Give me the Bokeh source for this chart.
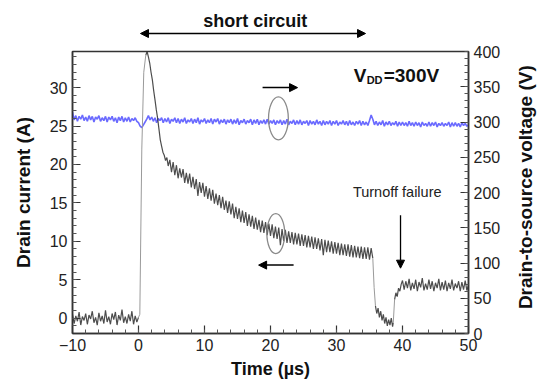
import math
from bokeh.plotting import figure
from bokeh.layouts import column, row
from bokeh.models import Range1d, LinearAxis, FixedTicker, Arrow, NormalHead, Label
from bokeh.embed import file_html
from bokeh.resources import INLINE

# ---------------- data ----------------
# sampling instants of the scope traces (µs)
t_grid = [
    -10.0, -9.75, -9.5, -9.25, -9.0, -8.75, -8.5, -8.25,
    -8.0, -7.75, -7.5, -7.25, -7.0, -6.75, -6.5, -6.25,
    -6.0, -5.75, -5.5, -5.25, -5.0, -4.75, -4.5, -4.25,
    -4.0, -3.75, -3.5, -3.25, -3.0, -2.75, -2.5, -2.25,
    -2.0, -1.75, -1.5, -1.25, -1.0, -0.75, -0.5, -0.25,
    0.0, 0.25, 0.5, 0.75, 1.0, 1.25, 1.5, 1.75,
    2.0, 2.25, 2.5, 2.75, 3.0, 3.25, 3.5, 3.75,
    4.0, 4.25, 4.5, 4.75, 5.0, 5.25, 5.5, 5.75,
    6.0, 6.25, 6.5, 6.75, 7.0, 7.25, 7.5, 7.75,
    8.0, 8.25, 8.5, 8.75, 9.0, 9.25, 9.5, 9.75,
    10.0, 10.25, 10.5, 10.75, 11.0, 11.25, 11.5, 11.75,
    12.0, 12.25, 12.5, 12.75, 13.0, 13.25, 13.5, 13.75,
    14.0, 14.25, 14.5, 14.75, 15.0, 15.25, 15.5, 15.75,
    16.0, 16.25, 16.5, 16.75, 17.0, 17.25, 17.5, 17.75,
    18.0, 18.25, 18.5, 18.75, 19.0, 19.25, 19.5, 19.75,
    20.0, 20.25, 20.5, 20.75, 21.0, 21.25, 21.5, 21.75,
    22.0, 22.25, 22.5, 22.75, 23.0, 23.25, 23.5, 23.75,
    24.0, 24.25, 24.5, 24.75, 25.0, 25.25, 25.5, 25.75,
    26.0, 26.25, 26.5, 26.75, 27.0, 27.25, 27.5, 27.75,
    28.0, 28.25, 28.5, 28.75, 29.0, 29.25, 29.5, 29.75,
    30.0, 30.25, 30.5, 30.75, 31.0, 31.25, 31.5, 31.75,
    32.0, 32.25, 32.5, 32.75, 33.0, 33.25, 33.5, 33.75,
    34.0, 34.25, 34.5, 34.75, 35.0, 35.25, 35.5, 35.75,
    36.0, 36.25, 36.5, 36.75, 37.0, 37.25, 37.5, 37.75,
    38.0, 38.25, 38.5, 38.75, 39.0, 39.25, 39.5, 39.75,
    40.0, 40.25, 40.5, 40.75, 41.0, 41.25, 41.5, 41.75,
    42.0, 42.25, 42.5, 42.75, 43.0, 43.25, 43.5, 43.75,
    44.0, 44.25, 44.5, 44.75, 45.0, 45.25, 45.5, 45.75,
    46.0, 46.25, 46.5, 46.75, 47.0, 47.25, 47.5, 47.75,
    48.0, 48.25, 48.5, 48.75, 49.0, 49.25, 49.5, 49.75,
    50.0]

# drain current (A), left axis -- before the short circuit (t = -10 .. 0)
t_pre = t_grid[0:41]
i_pre = [0.5, -0.7, 0.3, -0.4, 0.8, -0.9, 0.2, -0.3, 0.6, -0.8, 0.4, -0.1, 0.9, -0.6,
         0.1, -0.9, 0.7, -0.4, 0.3, -0.7, 1.0, -0.5, 0.2, -0.8, 0.6, -0.2, 0.8, -0.9,
         0.4, -0.3, 1.1, -0.6, 0.2, -0.7, 0.5, -0.4, 0.9, -0.8, 0.3, -0.5, 0.1]

# fast turn-on edge
t_rise = [0.0, 0.2, 0.5, 0.8, 1.1]
i_rise = [0.1, 0.5, 22.0, 32.0, 34.2]

# short-circuit current (t = 1.1 .. 35.5)
t_sc = [1.1, 1.3, 1.5, 1.7, 1.9, 2.1, 2.3, 2.5, 2.7, 2.9, 3.1, 3.3, 3.5, 3.7, 3.9,
        4.1, 4.3, 4.5] + t_grid[59:183]
i_sc = [34.2, 34.7, 34.0, 33.2, 32.0, 31.0, 29.6, 28.4, 27.1, 26.0, 24.6, 23.2, 22.4,
        21.6, 21.2, 20.5, 20.9, 19.8,
        20.6, 19.0, 20.3, 18.6, 19.9, 18.2, 19.5, 18.3,
        19.4, 17.6, 18.9, 17.5, 18.8, 17.0, 18.4, 16.8,
        18.1, 15.9, 17.7, 16.3, 17.6, 15.8, 17.2, 15.5,
        16.9, 15.3, 16.7, 14.9, 16.2, 14.7, 16.0, 14.3,
        15.8, 14.1, 15.3, 13.7, 15.2, 13.5, 14.9, 13.0,
        14.5, 12.9, 14.3, 12.5, 14.0, 12.4, 13.8, 12.0,
        13.5, 11.9, 13.3, 11.6, 13.1, 11.5, 12.8, 11.2,
        12.7, 11.1, 12.5, 10.8, 12.3, 10.7, 12.2, 10.4,
        11.9, 10.3, 11.8, 9.5, 11.6, 10.0, 11.5, 9.8,
        11.3, 9.8, 11.2, 9.6, 11.1, 9.6, 11.0, 9.4,
        10.9, 9.4, 10.8, 9.2, 10.7, 9.2, 10.6, 9.0,
        10.5, 9.0, 10.4, 8.8, 10.3, 8.2, 10.2, 8.6,
        10.1, 8.6, 10.0, 8.4, 9.9, 8.4, 9.8, 8.2,
        9.7, 8.2, 9.6, 8.1, 9.6, 8.0, 9.5, 7.9,
        9.4, 7.9, 9.3, 7.8, 9.3, 7.7, 9.2, 7.7,
        9.2, 7.6, 9.1, 7.8]

# turn-off attempt
t_fall = [35.5, 35.7, 35.9]
i_fall = [7.8, 4.0, 1.6]

t_dip = [35.9, 36.1, 36.3, 36.5, 36.7, 36.9, 37.1, 37.3, 37.5, 37.7, 37.9, 38.1,
         38.3, 38.5, 38.6]
i_dip = [1.6, 0.6, 1.3, 0.1, 0.9, -0.3, 0.5, -0.7, 0.1, -1.0, -0.2, -0.9, 0.0,
         -1.1, -0.6]

t_rise2 = [38.6, 38.8]
i_rise2 = [-0.6, 2.4]

# after the turn-off failure (t = 38.8 .. 50)
t_rec = [38.8, 39.0, 39.2, 39.4, 39.6, 39.8] + t_grid[200:241]
i_rec = [2.4, 3.3, 2.8, 3.9, 3.5, 4.4,
         4.9, 3.7, 4.8, 3.9, 5.1, 3.6, 4.6, 3.8,
         5.0, 3.5, 4.7, 4.0, 5.2, 3.6, 4.5, 3.7,
         5.0, 3.8, 4.8, 3.5, 4.6, 3.9, 5.1, 3.6,
         4.7, 3.7, 4.9, 3.5, 4.6, 3.8, 5.0, 3.6,
         4.5, 3.9, 4.8, 3.5, 4.7, 3.7, 4.9, 3.6,
         4.3]

# drain-to-source voltage (V), right axis
t_v = t_grid
v_ds = [314, 303, 309, 301, 308, 304, 310, 302,
        307, 301, 309, 303, 308, 300, 307, 304,
        309, 301, 306, 302, 308, 300, 307, 303,
        308, 301, 306, 299, 307, 302, 308, 300,
        306, 301, 307, 300, 305, 302, 306, 301,
        299, 294, 292, 296, 300, 304, 309, 303,
        307, 301, 306, 299, 305, 302, 306, 299,
        305, 300, 306, 298, 304, 301, 306, 299,
        305, 298, 304, 300, 306, 298, 303, 300,
        305, 298, 304, 299, 306, 297, 303, 300,
        305, 298, 303, 299, 305, 297, 304, 300,
        305, 297, 303, 299, 304, 297, 303, 299,
        304, 297, 303, 298, 305, 296, 302, 299,
        304, 297, 302, 299, 304, 296, 303, 298,
        304, 296, 302, 298, 303, 297, 304, 297,
        302, 298, 303, 296, 302, 298, 303, 296,
        302, 297, 304, 296, 301, 298, 303, 296,
        302, 297, 303, 296, 301, 298, 302, 295,
        302, 297, 301, 296, 303, 297, 301, 295,
        302, 296, 301, 297, 302, 295, 301, 297,
        302, 295, 300, 297, 302, 296, 301, 295,
        302, 296, 300, 295, 301, 297, 302, 295,
        301, 296, 300, 295, 302, 310, 304, 296,
        301, 295, 300, 296, 302, 294, 300, 296,
        301, 295, 299, 296, 301, 294, 300, 295,
        300, 295, 299, 294, 301, 295, 299, 294,
        300, 295, 299, 293, 300, 295, 298, 294,
        300, 294, 299, 295, 300, 293, 298, 295,
        299, 294, 298, 295, 300, 293, 299, 294,
        299, 294, 298, 293, 299, 295, 298, 294,
        296]

x_ticks = [-10, 0, 10, 20, 30, 40, 50]
i_ticks = [0, 5, 10, 15, 20, 25, 30]
v_ticks = [0, 50, 100, 150, 200, 250, 300, 350, 400]

FONT = "Liberation Sans"
X_RANGE = Range1d(-10, 50)

# ---------------- top strip: "short circuit" ----------------
top = figure(width=537, height=40, output_backend="svg", toolbar_location=None,
             x_range=X_RANGE, y_range=Range1d(0, 40), x_axis_type=None, y_axis_type=None,
             min_border_left=72, min_border_right=69, min_border_top=0, min_border_bottom=0)
top.outline_line_color = None
top.grid.visible = False

def head():
    return NormalHead(size=8, fill_color="black", line_color="black")

top.add_layout(Arrow(x_start=0.3, y_start=7, x_end=34.4, y_end=7,
                     start=head(), end=head(), line_width=1.5, line_color="black"))
top.add_layout(Label(x=17.7, y=20, text="short circuit", text_align="center",
                     text_baseline="middle", text_font=FONT, text_font_style="bold",
                     text_font_size="18px", text_color="#111111"))

# ---------------- main plot ----------------
p = figure(width=505, height=345, output_backend="svg", toolbar_location=None,
           x_range=X_RANGE, y_range=Range1d(-2.0, 34.7),
           min_border_left=72, min_border_right=37, min_border_top=11,
           min_border_bottom=52)
p.extra_y_ranges = {"v": Range1d(0, 400)}
p.grid.visible = False
p.outline_line_color = "#333333"
p.outline_line_width = 1.5

vaxis = LinearAxis(y_range_name="v")
p.add_layout(vaxis, "right")

p.xaxis.ticker = FixedTicker(ticks=x_ticks, minor_ticks=[-10 + 2 * k for k in range(31)])
p.yaxis[0].ticker = FixedTicker(ticks=i_ticks, minor_ticks=[-1 + k for k in range(36)])
vaxis.ticker = FixedTicker(ticks=v_ticks, minor_ticks=[10 * k for k in range(41)])

for ax in [p.xaxis[0], p.yaxis[0], vaxis]:
    ax.axis_line_color = "#333333"
    ax.axis_line_width = 1.5
    ax.major_tick_in = 8
    ax.major_tick_out = 0
    ax.minor_tick_in = 4
    ax.minor_tick_out = 0
    ax.major_tick_line_color = "#333333"
    ax.major_tick_line_width = 1.2
    ax.minor_tick_line_color = "#555555"
    ax.major_label_text_font = FONT
    ax.major_label_text_font_size = "16px"
    ax.major_label_text_color = "#222222"
    ax.major_label_standoff = 5
    ax.axis_label_text_font = FONT
    ax.axis_label_text_font_style = "bold"
    ax.axis_label_text_font_size = "19px"
    ax.axis_label_text_color = "#111111"

p.xaxis.axis_label = "Time (µs)"
p.xaxis.axis_label_text_font_size = "18px"
p.xaxis.axis_label_standoff = 5
p.yaxis[0].axis_label = "Drain current (A)"
p.yaxis[0].axis_label_standoff = 13

# traces
p.line(t_v, v_ds, y_range_name="v", line_color="#5050ff", line_width=1.6, line_alpha=0.85)

dark = "#2e2e2e"
light = "#9a9a9a"
for tt, ii in [(t_pre, i_pre), (t_sc, i_sc), (t_dip, i_dip), (t_rec, i_rec)]:
    p.line(tt, ii, line_color=dark, line_width=1.2, line_alpha=0.85)
for tt, ii in [(t_rise, i_rise), (t_fall, i_fall), (t_rise2, i_rise2)]:
    p.line(tt, ii, line_color=light, line_width=1.0)

# annotations
p.ellipse(x=[21.2], y=[26.0], width=[3.0], height=[5.6], fill_color=None,
          line_color="#8a8a8a", line_width=1.3)
p.ellipse(x=[20.8], y=[11.0], width=[2.7], height=[5.2], fill_color=None,
          line_color="#8a8a8a", line_width=1.3)

p.add_layout(Arrow(x_start=18.8, y_start=30.0, x_end=24.1, y_end=30.0,
                   end=head(), line_width=1.5, line_color="black"))
p.add_layout(Arrow(x_start=23.5, y_start=6.9, x_end=18.2, y_end=6.9,
                   end=head(), line_width=1.5, line_color="black"))
p.add_layout(Arrow(x_start=39.7, y_start=13.4, x_end=39.7, y_end=6.5,
                   end=head(), line_width=1.3, line_color="black"))

p.add_layout(Label(x=39.2, y=16.4, text="Turnoff failure", text_align="center",
                   text_baseline="middle", text_font=FONT,
                   text_font_size="14.5px", text_color="#222222"))
p.add_layout(Label(x=32.6, y=31.6, text="V", text_baseline="middle", text_font=FONT,
                   text_font_style="bold", text_font_size="19px", text_color="#111111"))
p.add_layout(Label(x=32.6, y=31.6, x_offset=13, y_offset=-5, text="DD",
                   text_baseline="middle", text_font=FONT, text_font_style="bold",
                   text_font_size="11px", text_color="#111111"))
p.add_layout(Label(x=32.6, y=31.6, x_offset=30, text="=300V", text_baseline="middle",
                   text_font=FONT, text_font_style="bold", text_font_size="19px",
                   text_color="#111111"))

# ---------------- right strip: right-axis title (reads bottom to top) ----------------
side = figure(width=32, height=345, output_backend="svg", toolbar_location=None,
              x_range=Range1d(0, 32), y_range=Range1d(0, 345),
              x_axis_type=None, y_axis_type=None,
              min_border_left=0, min_border_right=0, min_border_top=0, min_border_bottom=0)
side.outline_line_color = None
side.grid.visible = False
side.add_layout(Label(x=20, y=179, text="Drain-to-source voltage (V)", angle=math.pi / 2,
                      text_align="center", text_baseline="middle", text_font=FONT,
                      text_font_style="bold", text_font_size="19px", text_color="#111111"))

layout = column(top, row(p, side, spacing=0), spacing=0)
open("out.html", "w").write(file_html(layout, INLINE))
